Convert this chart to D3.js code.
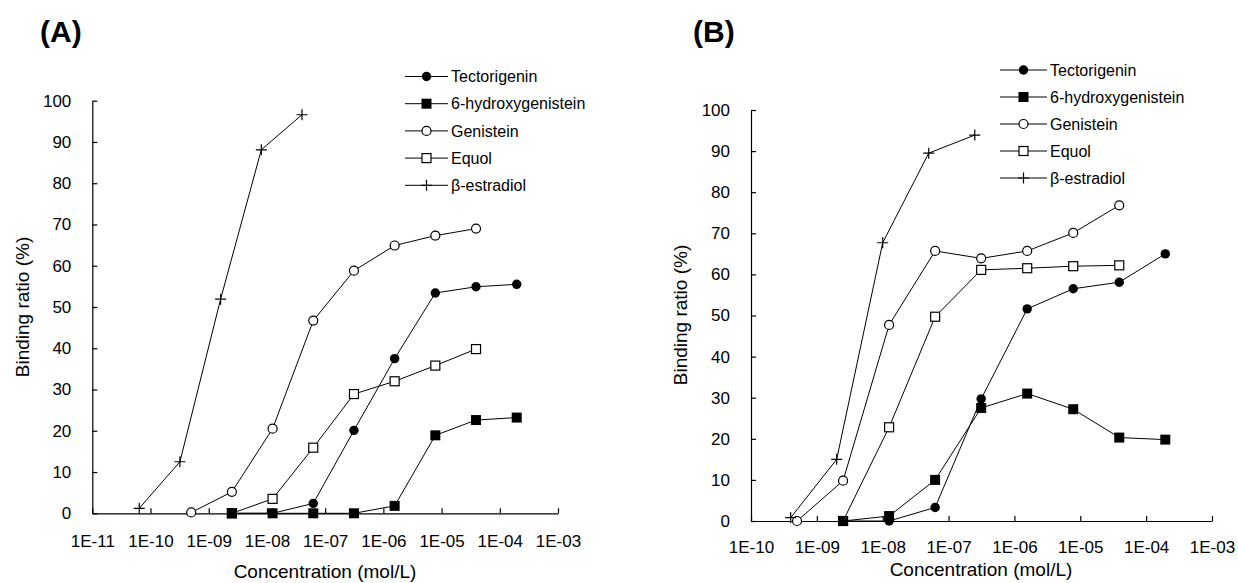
<!DOCTYPE html>
<html>
<head>
<meta charset="utf-8">
<script src="https://cdn.jsdelivr.net/npm/d3@7"></script>
<style>
  body { margin: 0; background: #fff; }
  text { font-family: "Liberation Sans", Arial, sans-serif; fill: #000; }
</style>
</head>
<body>
<script>
// Data (binding ratio, %)
const seriesNames = ["Tectorigenin", "6-hydroxygenistein", "Genistein", "Equol", "β-estradiol"];
const decadesA = [1e-11, 1e-10, 1e-9, 1e-8, 1e-7, 1e-6, 1e-5, 1e-4, 1e-3];
const decadesB = [1e-10, 1e-9, 1e-8, 1e-7, 1e-6, 1e-5, 1e-4, 1e-3];
const yTicks = [0, 10, 20, 30, 40, 50, 60, 70, 80, 90, 100];

// concentrations (mol/L) used for the isoflavones
const concIso = [5e-10, 2.5e-9, 1.25e-8, 6.25e-8, 3.125e-7, 1.5625e-6, 7.8125e-6, 3.90625e-5, 1.953125e-4];
// concentrations used for beta-estradiol
const concE2A = [6.4e-11, 3.2e-10, 1.6e-9, 8e-9, 4e-8];
const concE2B = [4e-10, 2e-9, 1e-8, 5e-8, 2.5e-7];

// panel A
const tectoA = [null, 0, 0, 2.4, 20.1, 37.5, 53.4, 54.9, 55.5];
const hydroxyA = [null, 0, 0, 0, 0, 1.8, 18.9, 22.6, 23.2];
const genisteinA = [0.2, 5.2, 20.5, 46.7, 58.8, 64.9, 67.3, 69.0, null];
const equolA = [null, 0, 3.5, 15.9, 28.9, 32.0, 35.8, 39.8, null];
const estradiolA = [1.2, 12.5, 51.9, 88.1, 96.6];

// panel B
const tectoB = [null, 0, 0, 3.3, 29.7, 51.6, 56.5, 58.1, 65.0];
const hydroxyB = [null, 0, 1.2, 10.0, 27.5, 31.0, 27.2, 20.3, 19.8];
const genisteinB = [0, 9.8, 47.7, 65.7, 63.9, 65.7, 70.1, 76.8, null];
const equolB = [null, 0, 22.8, 49.7, 61.1, 61.5, 62.0, 62.2, null];
const estradiolB = [0.8, 15.0, 67.7, 89.5, 93.9];

let svg = null;

appendSvg("body");

drawPanel({
  label: "(A)", labelX: 40,
  xDomain: [1e-11, 1e-3], xRange: [92.3, 558], yRange: [513.3, 100.7],
  decades: decadesA, xPad: 22,
  yTitle: [22, 307], xTitle: [325, 578],
  legend: {x0: 405, x1: 448, mx: 426.5, tx: 451, y0: 76.5, step: 27.2},
  series: [
    {name: "Equol", conc: concIso, vals: equolA},
    {name: "Genistein", conc: concIso, vals: genisteinA},
    {name: "Tectorigenin", conc: concIso, vals: tectoA},
    {name: "6-hydroxygenistein", conc: concIso, vals: hydroxyA},
    {name: "β-estradiol", conc: concE2A, vals: estradiolA}
  ]
});

drawPanel({
  label: "(B)", labelX: 693,
  xDomain: [1e-10, 1e-3], xRange: [751, 1212], yRange: [521, 110],
  decades: decadesB, xPad: 20,
  yTitle: [680, 315], xTitle: [981, 576],
  legend: {x0: 1000, x1: 1047, mx: 1023.5, tx: 1050, y0: 70, step: 27},
  series: [
    {name: "Equol", conc: concIso, vals: equolB},
    {name: "Genistein", conc: concIso, vals: genisteinB},
    {name: "Tectorigenin", conc: concIso, vals: tectoB},
    {name: "6-hydroxygenistein", conc: concIso, vals: hydroxyB},
    {name: "β-estradiol", conc: concE2B, vals: estradiolB}
  ]
});

function appendSvg(domElement) {
  svg = d3.select(domElement).append("svg")
    .attr("width", 1238)
    .attr("height", 583);
}

// "1E-09" style labels like the spreadsheet
function sciFormat(d) {
  const e = Math.round(Math.log10(d));
  return "1E" + (e < 0 ? "-" : "+") + String(Math.abs(e)).padStart(2, "0");
}

// draws one marker shape into a group, centred on 0,0
function drawMarker(g, name) {
  if (name === "Tectorigenin") {
    g.append("circle").attr("r", 4.7).attr("fill", "#000");
  } else if (name === "6-hydroxygenistein") {
    g.append("rect").attr("x", -5).attr("y", -5).attr("width", 10).attr("height", 10).attr("fill", "#000");
  } else if (name === "Genistein") {
    g.append("circle").attr("r", 4.5).attr("fill", "#fff").attr("stroke", "#000").attr("stroke-width", 1.2);
  } else if (name === "Equol") {
    g.append("rect").attr("x", -4.5).attr("y", -4.5).attr("width", 9).attr("height", 9)
      .attr("fill", "#fff").attr("stroke", "#000").attr("stroke-width", 1.2);
  } else {
    g.append("path").attr("d", "M-5.5,0H5.5M0,-5.5V5.5").attr("stroke", "#000").attr("stroke-width", 1.2);
  }
}

function drawPanel(p) {
  const x = d3.scaleLog().domain(p.xDomain).range(p.xRange);
  const y = d3.scaleLinear().domain([0, 100]).range(p.yRange);
  const panel = svg.append("g");

  // panel letter
  panel.append("text")
    .attr("x", p.labelX).attr("y", 42)
    .attr("font-size", 30).attr("font-weight", "bold")
    .text(p.label);

  // axes, ticks pointing inwards
  const xAxis = panel.append("g")
    .attr("transform", `translate(0, ${p.yRange[0]})`)
    .call(d3.axisBottom(x).tickValues(p.decades).tickFormat(sciFormat)
      .tickSizeInner(-5).tickSizeOuter(0).tickPadding(p.xPad));
  const yAxis = panel.append("g")
    .attr("transform", `translate(${p.xRange[0]}, 0)`)
    .call(d3.axisLeft(y).tickValues(yTicks)
      .tickSizeInner(-5).tickSizeOuter(0).tickPadding(21));
  [xAxis, yAxis].forEach(a => {
    a.attr("font-family", null).attr("font-size", 17);
    a.selectAll("path, line").attr("stroke", "#000").attr("stroke-width", 1.2);
  });

  // axis titles
  panel.append("text")
    .attr("transform", `translate(${p.yTitle[0]}, ${p.yTitle[1]}) rotate(-90)`)
    .attr("dy", "0.35em").attr("text-anchor", "middle").attr("font-size", 19)
    .text("Binding ratio (%)");
  panel.append("text")
    .attr("x", p.xTitle[0]).attr("y", p.xTitle[1])
    .attr("text-anchor", "middle").attr("font-size", 19)
    .text("Concentration (mol/L)");

  const line = d3.line().x(d => x(d.c)).y(d => y(d.v));

  p.series.forEach(s => {
    const pts = s.conc.map((c, i) => ({c: c, v: s.vals[i]})).filter(d => d.v != null);
    const g = panel.append("g").attr("class", "series");
    g.append("path")
      .datum(pts)
      .attr("d", line)
      .attr("fill", "none")
      .attr("stroke", "#000")
      .attr("stroke-width", 1);
    g.selectAll("g.pt")
      .data(pts)
      .enter()
        .append("g")
          .attr("class", "pt")
          .attr("transform", d => `translate(${x(d.c)}, ${y(d.v)})`)
          .each(function() { drawMarker(d3.select(this), s.name); });
  });

  // legend
  const lg = p.legend;
  const legend = panel.append("g").attr("class", "legend");
  seriesNames.forEach((name, i) => {
    const ly = lg.y0 + i * lg.step;
    legend.append("line")
      .attr("x1", lg.x0).attr("x2", lg.x1).attr("y1", ly).attr("y2", ly)
      .attr("stroke", "#000").attr("stroke-width", 1);
    drawMarker(legend.append("g").attr("transform", `translate(${lg.mx}, ${ly})`), name);
    legend.append("text")
      .attr("x", lg.tx).attr("y", ly).attr("dy", "0.35em")
      .attr("font-size", 16)
      .text(name);
  });
}
</script>
</body>
</html>
